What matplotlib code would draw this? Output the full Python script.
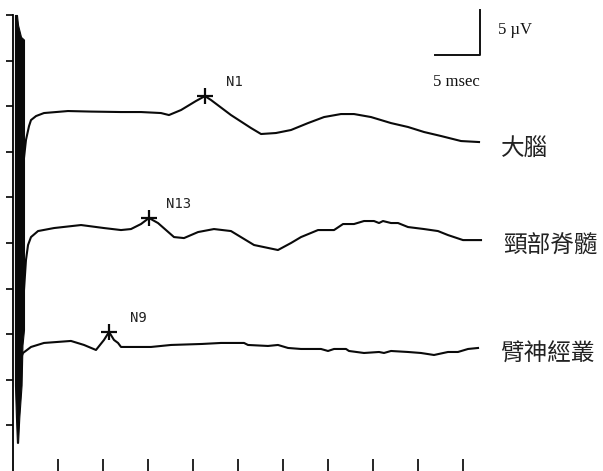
import matplotlib
matplotlib.use("Agg")
import matplotlib.pyplot as plt
import numpy as np

# time in msec, amplitude in uV relative to each trace's baseline
cortex_t = [1.0, 1.11, 1.22, 1.44, 1.78, 2.0, 2.56, 3.44, 4.78, 6.11, 8.67, 12.0,
            14.22, 16.44, 17.33, 18.67, 20.33, 21.33, 22.0, 24.22, 26.44, 27.56,
            29.22, 30.89, 32.78, 34.56, 36.44, 37.89, 39.78, 42.0, 43.89, 45.67,
            47.56, 49.78, 51.78]
cortex_v = [-4.17, -5.48, -5.04, -3.07, -1.54, -0.88, -0.44, -0.11, 0.0, 0.11, 0.05, 0.0,
            0.0, -0.11, -0.33, 0.22, 1.21, 1.75, 1.32, -0.33, -1.75, -2.41,
            -2.30, -1.97, -1.21, -0.55, -0.22, -0.22, -0.55, -1.21, -1.64, -2.19,
            -2.63, -3.18, -3.29]

cervical_t = [1.0, 1.11, 1.22, 1.44, 1.67, 2.0, 2.78, 4.56, 7.56, 10.11, 12.0, 13.11,
              14.22, 15.11, 16.11, 17.89, 19.0, 20.56, 22.33, 24.22, 26.78, 29.44,
              30.89, 32.0, 33.89, 35.67, 36.67, 37.89, 39.0, 40.11, 40.67, 41.11,
              42.0, 42.78, 43.89, 45.67, 47.22, 48.33, 50.0, 52.0]
cervical_v = [-4.61, -7.35, -6.80, -3.51, -1.86, -0.99, -0.33, 0.0, 0.33, 0.0, -0.22, -0.11,
              0.44, 1.10, 0.55, -0.99, -1.10, -0.44, -0.11, -0.33, -1.86, -2.41,
              -1.64, -0.99, -0.22, -0.22, 0.44, 0.44, 0.77, 0.77, 0.55, 0.77,
              0.55, 0.55, 0.11, -0.11, -0.33, -0.77, -1.32, -1.32]

plexus_t = [0.78, 0.89, 1.11, 2.0, 3.44, 6.44, 7.89, 9.22, 10.11, 10.67, 11.22, 11.67,
            12.0, 15.33, 17.56, 21.0, 23.11, 25.67, 26.11, 28.33, 29.44, 30.56,
            32.0, 34.22, 35.0, 35.67, 37.0, 37.33, 39.0, 40.67, 41.22, 42.0,
            43.89, 45.33, 46.78, 48.33, 49.44, 50.56, 51.67]
plexus_v = [-2.30, -1.54, -0.99, -0.33, 0.11, 0.33, -0.11, -0.66, 0.44, 1.32, 0.44, 0.11,
            -0.33, -0.33, -0.11, 0.0, 0.11, 0.11, -0.11, -0.22, -0.11, -0.44,
            -0.55, -0.55, -0.77, -0.55, -0.55, -0.77, -0.99, -0.88, -0.99, -0.77,
            -0.88, -0.99, -1.21, -0.88, -0.88, -0.55, -0.44]

offsets = [39.36, 26.64, 13.93]
names = ["大腦", "頸部脊髓", "臂神經叢"]
peak_names = ["N1", "N13", "N9"]
peak_index = [17, 13, 9]

# stimulus artifact outline (uV level, left / right edge in msec)
artifact_v = [50.0, 48.9, 47.6, 47.3, 15.5, 13.8, 9.4, 5.9, 3.1]
artifact_l = [0.22, 0.22, 0.22, 0.22, 0.22, 0.22, 0.22, 0.33, 0.44]
artifact_r = [0.44, 0.56, 0.89, 1.22, 1.22, 1.05, 0.95, 0.7, 0.56]

W, H = 603, 471
fig = plt.figure(figsize=(W / 100, H / 100), dpi=100)
ax = fig.add_axes([13 / W, 0, (W - 13) / W, (H - 15) / H])
ax.set_xlim(0, (W - 13) / 9)
ax.set_ylim(0, 50)

traces = [(cortex_t, cortex_v), (cervical_t, cervical_v), (plexus_t, plexus_v)]
for (t, v), off, name, pk, pi in zip(traces, offsets, names, peak_names, peak_index):
    y = np.array(v) + off
    ax.plot(t, y, color="#0a0a0a", lw=1.5, solid_joinstyle="round")
    ax.plot(t[pi], y[pi], marker="+", ms=11, mew=1.6, color="#0a0a0a")
    ax.annotate(pk, (t[pi], y[pi]), xytext=(21, 10), textcoords="offset points",
                ha="center", va="center", fontsize=10, family="DejaVu Sans Mono",
                color="#222")
    ax.text(t[-1] + 2.4, y[-1] - 0.7, name, ha="left", va="center", fontsize=17,
            family=["Noto Sans CJK TC", "DejaVu Sans"], color="#222")

ax.fill_betweenx(artifact_v, artifact_l, artifact_r, color="#0a0a0a", lw=0.8,
                 clip_on=False)

# scale bar: 5 msec x 5 uV
cx, cy = 51.9, 45.6
ax.plot([cx - 5, cx, cx], [cy, cy, cy + 5], color="#111", lw=1.4, clip_on=False)
ax.text(cx + 2.0, cy + 2.8, "5 µV", fontsize=12, family="Liberation Serif",
        va="center", ha="left", color="#111")
ax.text(cx - 2.6, cy - 2.9, "5 msec", fontsize=12, family="Liberation Serif",
        va="center", ha="center", color="#111")

for side in ("top", "right", "bottom"):
    ax.spines[side].set_visible(False)
ax.spines["left"].set_linewidth(1.3)
ax.set_xticks(np.arange(5, 55, 5))
ax.set_yticks(np.arange(5, 55, 5))
ax.tick_params(axis="x", direction="in", length=9, width=1.2, labelbottom=False)
ax.tick_params(axis="y", direction="out", length=5, width=1.2, labelleft=False)

fig.savefig("out.png", dpi=100)
